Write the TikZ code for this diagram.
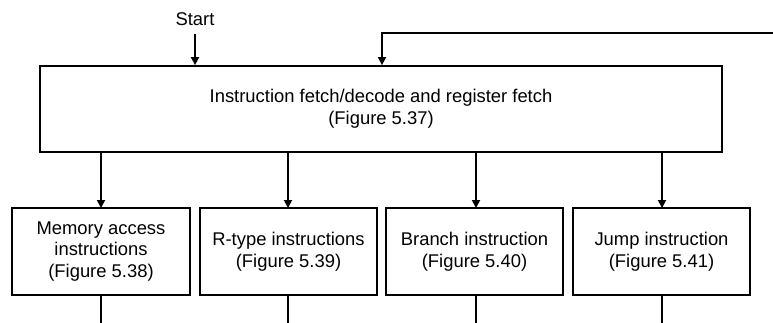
\documentclass[tikz,border=0pt]{standalone}
\usepackage{fontspec}
\setmainfont{Liberation Sans}
\usetikzlibrary{arrows.meta}
\begin{document}
\begin{tikzpicture}[x=1pt,y=-1pt,
  box/.style={draw,line width=1.8pt,inner sep=0pt,align=center,
    font=\fontsize{18.4}{21.7}\selectfont},
  conn/.style={line width=1.8pt},
  arr/.style={conn,-{Triangle[length=8pt,width=8pt]}},
  lbl/.style={font=\fontsize{18.4}{21.7}\selectfont,inner sep=0pt}]
\useasboundingbox (0,0) rectangle (773,322);
\node[box,minimum width=682pt,minimum height=86pt] (main) at (381,109)
  {Instruction fetch/decode and register fetch\\(Figure 5.37)};
\node[box,minimum width=178pt,minimum height=87pt] (b1) at (101,251.5)
  {Memory access\\instructions\\(Figure 5.38)};
\node[box,minimum width=177pt,minimum height=87pt] (b2) at (288.5,251.5)
  {R-type instructions\\(Figure 5.39)};
\node[box,minimum width=177pt,minimum height=87pt] (b3) at (474.5,251.5)
  {Branch instruction\\(Figure 5.40)};
\node[box,minimum width=177pt,minimum height=87pt] (b4) at (661.5,251.5)
  {Jump instruction\\(Figure 5.41)};
\node[lbl] (start) at (195,19) {Start};
\coordinate (st) at (195,34);
\coordinate (fb) at (775,33);
\draw[arr] (st) -- (st |- main.north);
\draw[arr] (fb) -| ([xshift=1pt]main.north);
\foreach \b/\xx in {b1/101,b2/288,b3/476,b4/662}{
  \coordinate (\b t) at (\xx,208);
  \coordinate (\b e) at (\xx,324);
  \draw[arr] (\b t |- main.south) -- (\b t);
  \draw[conn] (\b t |- \b.south) -- (\b e);
}
\end{tikzpicture}
\end{document}
